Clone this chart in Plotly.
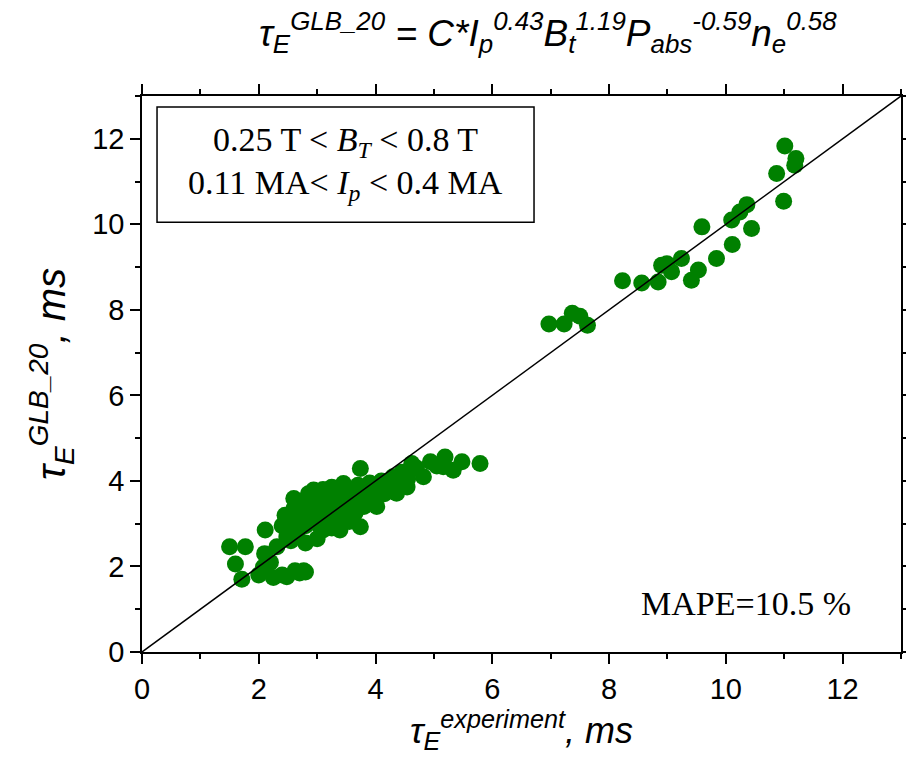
import plotly.graph_objects as go

# ---- data ----
tau_exp = [
    # low cluster, left part
    1.50, 1.77, 2.11, 1.60, 1.71, 2.00, 2.08, 2.25, 2.40, 2.48, 2.62, 2.77, 2.31, 2.48, 2.10, 2.20, 2.80, 2.70,
    # main blob
    2.40, 2.45, 2.50, 2.55,
    2.60, 2.60, 2.65, 2.65, 2.70,
    2.75, 2.80, 2.80, 2.85, 2.85, 2.90,
    2.94, 2.95, 3.00, 3.00, 3.05, 3.05, 3.10, 3.10,
    3.15, 3.20, 3.20, 3.25, 3.25, 3.30,
    3.35, 3.39, 3.40, 3.45, 3.45, 3.50, 3.55,
    3.60, 3.60, 3.65, 3.70, 3.74, 3.74, 3.75, 3.80,
    3.85, 3.90, 3.95, 4.02, 4.05, 4.10, 4.15,
    4.25, 4.30, 4.36, 4.40, 4.45, 4.54, 4.55,
    # tail
    4.62, 4.70, 4.82, 4.94, 5.05, 5.16, 5.19, 5.33, 5.48, 5.79,
    # upper cluster
    6.97, 7.23, 7.37, 7.50, 7.63,
    8.23, 8.56, 8.84, 8.90, 8.99, 9.07, 9.24, 9.41, 9.53, 9.59, 9.84,
    10.10, 10.11, 10.24, 10.36, 10.44, 10.87, 10.99, 11.01, 11.18, 11.20,
]
tau_glb20 = [
    2.46, 2.46, 2.85, 2.06, 1.70, 1.80, 1.99, 1.74, 1.80, 1.76, 1.90, 1.90, 2.46, 2.69, 2.30, 2.10, 1.87, 1.85,
    2.95, 3.20, 3.00, 2.60,
    3.59, 3.35, 2.75, 3.10, 3.45,
    3.25, 2.55, 2.95, 3.55, 3.70, 3.15,
    3.79, 3.40, 2.65, 3.00, 3.60, 3.25, 2.85, 3.80,
    3.45, 3.10, 3.65, 2.90, 3.85, 3.35,
    3.55, 2.85, 3.15, 3.94, 3.70, 3.40, 3.05,
    3.80, 3.55, 3.25, 3.90, 2.93, 4.29, 3.60, 3.40,
    3.75, 3.95, 3.55, 3.40, 3.85, 4.00, 3.70,
    3.90, 4.10, 3.71, 4.00, 4.20, 3.86, 4.05,
    4.41, 4.30, 4.10, 4.45, 4.35, 4.33, 4.56, 4.25, 4.45, 4.41,
    7.67, 7.67, 7.92, 7.85, 7.64,
    8.68, 8.63, 8.65, 9.04, 9.08, 8.89, 9.20, 8.69, 8.93, 9.94, 9.20,
    10.10, 9.53, 10.29, 10.46, 9.90, 11.19, 10.54, 11.83, 11.38, 11.54,
]
diag = [0, 13]
x_range = [0, 13]
y_range = [0, 13]

title_text = ("<i>τ<sub>E</sub><sup>GLB_20</sup> = C*I<sub>p</sub><sup>0.43</sup>"
              "B<sub>t</sub><sup>1.19</sup>P<sub>abs</sub><sup>-0.59</sup>"
              "n<sub>e</sub><sup>0.58</sup></i>")
xlabel = "<i>τ<sub>E</sub><sup>experiment</sup>, ms</i>"
ylabel = "<i>τ<sub>E</sub><sup>GLB_20</sup>, ms</i>"
box_line1 = "0.25 T < <i>B<sub>T</sub></i> < 0.8 T"
box_line2 = "0.11 MA< <i>I<sub>p</sub></i> < 0.4 MA"
mape_text = "MAPE=10.5 %"

SANS = "Liberation Sans, Arial, sans-serif"
SERIF = "Liberation Serif, Times New Roman, serif"

fig = go.Figure()
fig.add_trace(go.Scatter(x=tau_exp, y=tau_glb20, mode="markers",
                         marker=dict(color="#008000", size=17, line=dict(width=0)),
                         showlegend=False, hoverinfo="skip"))
fig.add_trace(go.Scatter(x=diag, y=diag, mode="lines",
                         line=dict(color="black", width=1.5),
                         showlegend=False, hoverinfo="skip"))

axis_common = dict(
    showgrid=False, zeroline=False, showline=True, linecolor="black", linewidth=1.5,
    mirror="allticks", ticks="outside", ticklen=10, tickwidth=1.5, tickcolor="black",
    dtick=2, tick0=0, automargin=False,
    minor=dict(dtick=1, tick0=0, ticks="outside", ticklen=5, tickwidth=1.5, tickcolor="black", showgrid=False),
    tickfont=dict(family=SANS, size=29, color="black"),
)

fig.update_xaxes(range=x_range, title=dict(text=xlabel, font=dict(family=SANS, size=36, color="black"), standoff=10),
                 **axis_common)
fig.update_yaxes(range=y_range, title=dict(text=ylabel, font=dict(family=SANS, size=40, color="black"), standoff=14),
                 **axis_common)

fig.add_shape(type="rect", xref="paper", yref="paper", x0=0.0198, x1=0.5165, y0=0.773, y1=0.980,
              line=dict(color="black", width=1.5), fillcolor="white", layer="above")
fig.add_annotation(x=0.268, y=0.917, xref="paper", yref="paper", text=box_line1, showarrow=False,
                   font=dict(family=SERIF, size=34, color="black"), xanchor="center", yanchor="middle")
fig.add_annotation(x=0.268, y=0.840, xref="paper", yref="paper", text=box_line2, showarrow=False,
                   font=dict(family=SERIF, size=34, color="black"), xanchor="center", yanchor="middle")
fig.add_annotation(x=0.796, y=0.088, xref="paper", yref="paper", text=mape_text, showarrow=False,
                   font=dict(family=SERIF, size=34, color="black"), xanchor="center", yanchor="middle")
fig.add_annotation(x=0.535, y=1.115, xref="paper", yref="paper", text=title_text, showarrow=False,
                   font=dict(family=SANS, size=37, color="black"), xanchor="center", yanchor="middle")

fig.update_layout(width=906, height=778, margin=dict(l=142, r=5, t=96, b=126, autoexpand=False),
                  paper_bgcolor="white", plot_bgcolor="white")

fig.write_html("out.html")
